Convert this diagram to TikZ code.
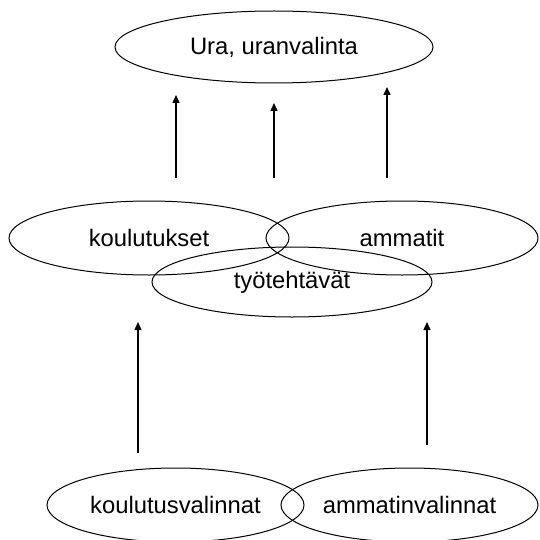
\documentclass[tikz,border=0pt]{standalone}
\usepackage{fontspec}
\setmainfont{Liberation Sans}
\usetikzlibrary{shapes.geometric,arrows.meta}
\begin{document}
\begin{tikzpicture}[x=0.5pt,y=-0.5pt,
  oval/.style={ellipse,draw,line width=0.5pt,inner sep=0pt,font=\fontsize{11.9pt}{14pt}\selectfont},
  up/.style={line width=0.75pt,-{Triangle[length=4pt,width=3.5pt]}}]
\clip (0,0) rectangle (540,540);
\fill[white] (0,0) rectangle (540,540);
\node[oval,minimum width=159pt,minimum height=36pt] (ura) at (274,47) {Ura, uranvalinta};
\node[oval,minimum width=140pt,minimum height=37pt] (kou) at (149,238) {koulutukset};
\node[oval,minimum width=136pt,minimum height=37pt] (amm) at (402,238) {ammatit};
\node[oval,minimum width=140pt,minimum height=35pt] (tyo) at (292,282) {työtehtävät};
\node[oval,minimum width=128.5pt,minimum height=37pt] (kv) at (175.5,505) {koulutusvalinnat};
\node[oval,minimum width=128.5pt,minimum height=37pt] (av) at (409.5,505) {ammatinvalinnat};
\coordinate (a1s) at (176,178); \coordinate (a1e) at (176,95);
\coordinate (a2s) at (274,178); \coordinate (a2e) at (274,103);
\coordinate (a3s) at (387,178); \coordinate (a3e) at (387,87);
\coordinate (b1s) at (138,453); \coordinate (b1e) at (138,322);
\coordinate (b2s) at (427,445); \coordinate (b2e) at (427,322);
\draw[up] (a1s) -- (a1e);
\draw[up] (a2s) -- (a2e);
\draw[up] (a3s) -- (a3e);
\draw[up] (b1s) -- (b1e);
\draw[up] (b2s) -- (b2e);
\end{tikzpicture}
\end{document}
